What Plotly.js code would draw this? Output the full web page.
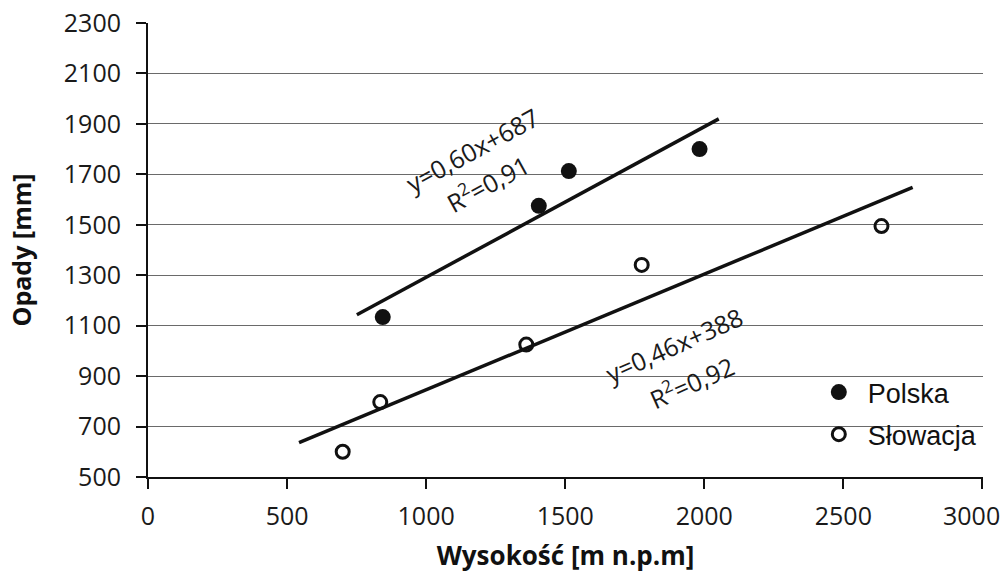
<!DOCTYPE html>
<html>
<head>
<meta charset="utf-8">
<script src="https://cdn.plot.ly/plotly-3.0.1.min.js"></script>
<style>html,body{margin:0;padding:0;background:#fff;}</style>
</head>
<body>
<div id="chart" style="width:1006px;height:573px;"></div>
<script>
// Data
const polskaX = [844, 1405, 1513, 1983];
const polskaY = [1134, 1575, 1713, 1800];
const slowacjaX = [700, 835, 1360, 1775, 2637];
const slowacjaY = [600, 797, 1025, 1341, 1495];
// Trend line endpoints
const polskaTrendX = [751, 2052];
const polskaTrendY = [1143, 1920];
const slowacjaTrendX = [543, 2749];
const slowacjaTrendY = [636, 1648];
// Labels
const seriesNames = ['Polska', 'Słowacja'];
const polskaEq = ['y=0,60x+687', 'R<sup>2</sup>=0,91'];
const slowacjaEq = ['y=0,46x+388', 'R<sup>2</sup>=0,92'];
const xTitle = 'Wysokość [m n.p.m]';
const yTitle = 'Opady [mm]';
const xTicks = [0, 500, 1000, 1500, 2000, 2500, 3000];
const xTickText = ['0', '500', '1000', '1500', '2000', '2500', ''];
const lastXTickLabel = '3000';
const yTicks = [500, 700, 900, 1100, 1300, 1500, 1700, 1900, 2100, 2300];

const tickFont = {family: 'Open Sans, sans-serif', size: 25, color: '#1a1a1a'};
const eqFont = {family: 'Open Sans, sans-serif', size: 25, color: '#1a1a1a'};

const traces = [
  {x: polskaTrendX, y: polskaTrendY, mode: 'lines', line: {color: '#111', width: 3.5}, showlegend: false, hoverinfo: 'skip'},
  {x: slowacjaTrendX, y: slowacjaTrendY, mode: 'lines', line: {color: '#111', width: 3.5}, showlegend: false, hoverinfo: 'skip'},
  {x: polskaX, y: polskaY, mode: 'markers', name: seriesNames[0], legendgroup: 'a',
   marker: {symbol: 'circle', size: 16, color: '#111'}},
  {x: slowacjaX, y: slowacjaY, mode: 'markers', name: seriesNames[1], legendgroup: 'b',
   marker: {symbol: 'circle-open', size: 13, color: '#111', line: {width: 3, color: '#111'}}}
];

const layout = {
  width: 1006, height: 573,
  margin: {l: 148, r: 23, t: 23, b: 96},
  paper_bgcolor: '#fff', plot_bgcolor: '#fff',
  showlegend: true,
  legend: {x: 0.7926, y: 0.24, xanchor: 'left', yanchor: 'top', bgcolor: 'rgba(0,0,0,0)',
    font: {family: 'Liberation Sans, Arial, sans-serif', size: 27, color: '#111'},
    traceorder: 'grouped', tracegroupgap: 4, itemwidth: 48},
  xaxis: {range: [0, 3002], tickmode: 'array', tickvals: xTicks, ticktext: xTickText,
    showgrid: false, zeroline: false, ticklabeloverflow: 'allow',
    showline: true, linecolor: '#111', linewidth: 2, ticks: 'outside', ticklen: 10, tickwidth: 2, tickcolor: '#111',
    tickfont: tickFont, ticklabelstandoff: 6,
    title: {text: '<b>' + xTitle + '</b>', font: {family: 'Open Sans, sans-serif', size: 26, color: '#111'}, standoff: 28}},
  yaxis: {range: [500, 2300], tickmode: 'array', tickvals: yTicks, ticktext: yTicks.map(String),
    showgrid: true, gridcolor: '#6a6a6a', gridwidth: 1, zeroline: false,
    showline: true, linecolor: '#111', linewidth: 2, ticks: 'outside', ticklen: 10, tickwidth: 2, tickcolor: '#111',
    tickfont: tickFont, ticklabelstandoff: 10,
    title: {text: '<b>' + yTitle + '</b>', font: {family: 'Open Sans, sans-serif', size: 25, color: '#111'}, standoff: 25}},
  annotations: [
    {x: 1164, y: 1797, xref: 'x', yref: 'y', text: polskaEq[0], showarrow: false, textangle: -28.5, font: eqFont},
    {x: 1222, y: 1666, xref: 'x', yref: 'y', text: polskaEq[1], showarrow: false, textangle: -28.5, font: eqFont},
    {x: 1890, y: 1023, xref: 'x', yref: 'y', text: slowacjaEq[0], showarrow: false, textangle: -24, font: eqFont},
    {x: 1955, y: 877, xref: 'x', yref: 'y', text: slowacjaEq[1], showarrow: false, textangle: -24, font: eqFont},
    {x: 3000, y: 0, xref: 'x', yref: 'paper', text: lastXTickLabel, showarrow: false, xanchor: 'center', yanchor: 'middle',
     xshift: -11, yshift: -38, font: tickFont}
  ]
};

Plotly.newPlot('chart', traces, layout, {displayModeBar: false, staticPlot: true});
</script>
</body>
</html>
